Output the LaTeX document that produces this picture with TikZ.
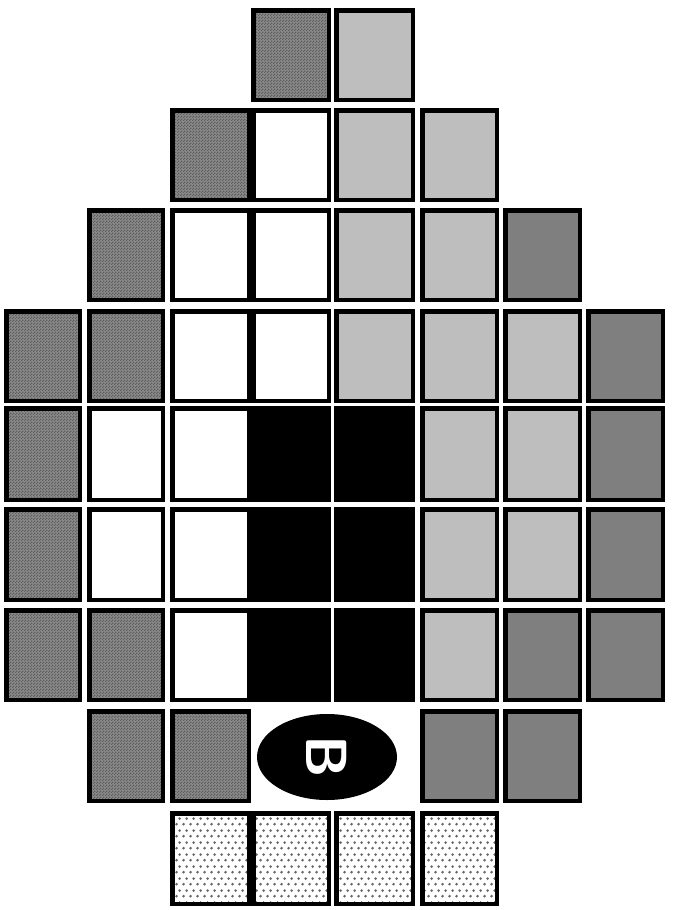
\documentclass[tikz,border=0pt]{standalone}
\usetikzlibrary{patterns.meta}
\tikzdeclarepattern{
  name=finechk, type=uncolored,
  bounding box={(0pt,0pt) and (3pt,3pt)},
  tile size={(3pt,3pt)},
  code={\fill (0pt,0pt) rectangle (1.5pt,1.5pt); \fill (1.5pt,1.5pt) rectangle (3pt,3pt);}
}
\tikzdeclarepattern{
  name=hexdots, type=uncolored,
  bounding box={(0pt,0pt) and (7pt,12pt)},
  tile size={(7pt,12pt)},
  code={\fill (1.75pt,3pt) circle (1.6pt); \fill (5.25pt,9pt) circle (1.6pt);}
}
\definecolor{ltg}{HTML}{BEBEBE}
\definecolor{mdg}{HTML}{7F7F7F}
\definecolor{dkbase}{HTML}{8A8A8A}
\definecolor{dkpat}{HTML}{5E5E5E}
\definecolor{dotc}{HTML}{666666}
\def\colL{{4,87,170,251,334,420,503,586}}
\def\colR{{82,165,251,331,415,499,582,665}}
\def\rowT{{8,108,208,309,406,507,608,709,811}}
\def\rowB{{102,202,302,403,502,602,702,803,906}}
\newcommand\mycell[3]{%
  \pgfmathsetmacro\xl{\colL[#1-1]+2.25}%
  \pgfmathsetmacro\xr{\colR[#1-1]-2.25}%
  \pgfmathsetmacro\yt{\rowT[#2-1]+2.25}%
  \pgfmathsetmacro\yb{\rowB[#2-1]-2.25}%
  \draw[#3] (\xl,\yt) rectangle (\xr,\yb);%
}
\tikzset{
  box/.style={draw=black, line width=4.5pt},
  dk/.style={box, preaction={fill=dkbase}, pattern={finechk}, pattern color=dkpat},
  lt/.style={box, fill=ltg},
  md/.style={box, fill=mdg},
  wh/.style={box, fill=white},
  bk/.style={box, fill=black},
  dt/.style={box, preaction={fill=white}, pattern={hexdots}, pattern color=dotc},
}
\begin{document}
\begin{tikzpicture}[x=1pt,y=-1pt]
\useasboundingbox (0,0) rectangle (675,910);
\fill[white] (0,0) rectangle (675,910);
% row 1
\mycell{4}{1}{dk}\mycell{5}{1}{lt}
% row 2
\mycell{3}{2}{dk}\mycell{4}{2}{wh}\mycell{5}{2}{lt}\mycell{6}{2}{lt}
% row 3
\mycell{2}{3}{dk}\mycell{3}{3}{wh}\mycell{4}{3}{wh}\mycell{5}{3}{lt}\mycell{6}{3}{lt}\mycell{7}{3}{md}
% row 4
\mycell{1}{4}{dk}\mycell{2}{4}{dk}\mycell{3}{4}{wh}\mycell{4}{4}{wh}\mycell{5}{4}{lt}\mycell{6}{4}{lt}\mycell{7}{4}{lt}\mycell{8}{4}{md}
% row 5
\mycell{1}{5}{dk}\mycell{2}{5}{wh}\mycell{3}{5}{wh}\mycell{4}{5}{bk}\mycell{5}{5}{bk}\mycell{6}{5}{lt}\mycell{7}{5}{lt}\mycell{8}{5}{md}
% row 6
\mycell{1}{6}{dk}\mycell{2}{6}{wh}\mycell{3}{6}{wh}\mycell{4}{6}{bk}\mycell{5}{6}{bk}\mycell{6}{6}{lt}\mycell{7}{6}{lt}\mycell{8}{6}{md}
% row 7
\mycell{1}{7}{dk}\mycell{2}{7}{dk}\mycell{3}{7}{wh}\mycell{4}{7}{bk}\mycell{5}{7}{bk}\mycell{6}{7}{lt}\mycell{7}{7}{md}\mycell{8}{7}{md}
% row 8
\mycell{2}{8}{dk}\mycell{3}{8}{dk}\mycell{6}{8}{md}\mycell{7}{8}{md}
\fill[black] (327,757) ellipse [x radius=70, y radius=43];
\node[text=white, font=\fontsize{58}{58}\selectfont\sffamily\bfseries, rotate=-90, inner sep=0pt] (bee) at (327,757) {B};
% row 9
\mycell{3}{9}{dt}\mycell{4}{9}{dt}\mycell{5}{9}{dt}\mycell{6}{9}{dt}
\end{tikzpicture}
\end{document}
